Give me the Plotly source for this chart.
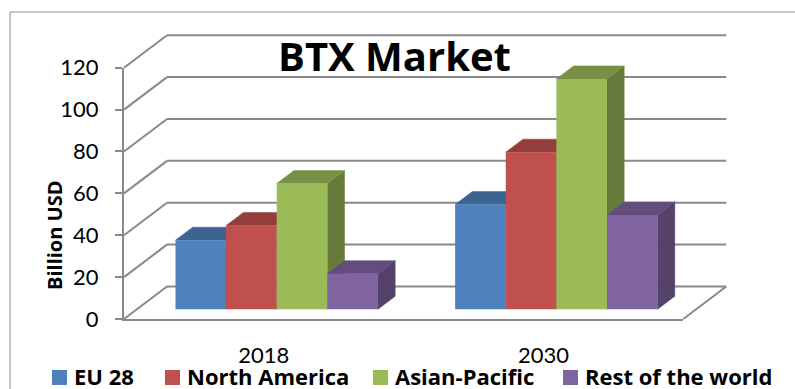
import plotly.graph_objects as go

# ---- data -------------------------------------------------------------
categories = ["2018", "2030"]
series_names = ["EU 28", "North America", "Asian-Pacific", "Rest of the world"]
eu28 = [33, 50]
north_america = [40, 75]
asian_pacific = [60, 110]
rest_of_world = [17, 45]
y_ticks = [0, 20, 40, 60, 80, 100, 120]

series_values = [eu28, north_america, asian_pacific, rest_of_world]
front_colors = ["#4F81BD", "#C0504D", "#9BBB59", "#8064A2"]
top_colors = ["#3D6392", "#943E3B", "#779045", "#634D7D"]
side_colors = ["#34557D", "#7F3533", "#667B3B", "#54426B"]

# ---- page / projection geometry -------------------------------------
W, H = 795, 389
X0_PX, Y0_PX = 124, 319          # front-left corner of the floor
PX_PER_CAT = 279.65              # width of one category slot
PX_PER_UNIT = 2.094              # pixels per billion USD
DEPTH_DX = 43 / PX_PER_CAT       # oblique depth offset (x, data units)
DEPTH_DY = 32.5 / PX_PER_UNIT    # oblique depth offset (y, data units)
BAR_FRONT = 0.30                 # depth position of bar front faces
BAR_DEPTH = 0.40                 # depth of each bar
GROUP_W = 0.724                  # cluster width inside a category slot
N_CAT = len(categories)
bar_w = GROUP_W / len(series_names)

GRID = "#898989"
NUM_FONT = "Lato, Carlito, Calibri, sans-serif"
BOLD_FONT = "Open Sans, Carlito, Calibri, sans-serif"

fig = go.Figure()
shapes = []

# back wall gridlines and left-wall diagonals
for v in y_ticks:
    shapes.append(dict(type="line", xref="x", yref="y", layer="below",
                       x0=0, y0=v, x1=DEPTH_DX, y1=v + DEPTH_DY,
                       line=dict(color=GRID, width=2)))
    shapes.append(dict(type="line", xref="x", yref="y", layer="below",
                       x0=DEPTH_DX, y0=v + DEPTH_DY,
                       x1=N_CAT + DEPTH_DX, y1=v + DEPTH_DY,
                       line=dict(color=GRID, width=2)))
# floor right edge
shapes.append(dict(type="line", xref="x", yref="y", layer="below",
                   x0=N_CAT, y0=0, x1=N_CAT + DEPTH_DX, y1=DEPTH_DY,
                   line=dict(color=GRID, width=2)))

base = BAR_FRONT * DEPTH_DY
ddx = BAR_DEPTH * DEPTH_DX
ddy = BAR_DEPTH * DEPTH_DY


def poly(pts):
    return "M " + " L ".join(f"{px:.5f},{py:.5f}" for px, py in pts) + " Z"


# side and top faces, drawn left to right so nearer faces overlap
for i in range(N_CAT):
    for j, vals in enumerate(series_values):
        left = i + 0.5 - GROUP_W / 2 + j * bar_w + BAR_FRONT * DEPTH_DX
        right = left + bar_w
        top = base + vals[i]
        side = [(right, base), (right, top), (right + ddx, top + ddy),
                (right + ddx, base + ddy)]
        lid = [(left, top), (right, top), (right + ddx, top + ddy),
               (left + ddx, top + ddy)]
        shapes.append(dict(type="path", xref="x", yref="y", layer="below",
                           path=poly(side), fillcolor=side_colors[j],
                           line=dict(color=side_colors[j], width=0.5)))
        shapes.append(dict(type="path", xref="x", yref="y", layer="below",
                           path=poly(lid), fillcolor=top_colors[j],
                           line=dict(color=top_colors[j], width=0.5)))

# front faces of the columns
for j, (name, vals) in enumerate(zip(series_names, series_values)):
    xs = [i + 0.5 - GROUP_W / 2 + (j + 0.5) * bar_w + BAR_FRONT * DEPTH_DX
          for i in range(N_CAT)]
    fig.add_trace(go.Bar(
        x=xs, y=vals, base=base, width=bar_w, name=name,
        marker=dict(color=front_colors[j], line=dict(width=0)),
        showlegend=False, hoverinfo="name+y",
    ))

# empty trace anchoring the front axes subplot
fig.add_trace(go.Scatter(x=[None], y=[None], xaxis="x2", yaxis="y2",
                         showlegend=False, hoverinfo="skip"))

# chart border
shapes.append(dict(type="rect", xref="paper", yref="paper",
                   x0=10 / W, x1=1.2, y0=-0.2, y1=(H - 12) / H,
                   line=dict(color="#8c8c8c", width=1), layer="below"))

# legend
legend_x = [52, 165, 373, 563]
for j, name in enumerate(series_names):
    shapes.append(dict(type="rect", xref="paper", yref="paper",
                       x0=legend_x[j] / W, x1=(legend_x[j] + 15) / W,
                       y0=(H - 385) / H, y1=(H - 370) / H,
                       fillcolor=front_colors[j], line=dict(width=0)))
    fig.add_annotation(text=f"<b>{name}</b>", xref="paper", yref="paper",
                       x=(legend_x[j] + 20) / W, y=(H - 375.5) / H,
                       xanchor="left", yanchor="middle", showarrow=False,
                       font=dict(family=BOLD_FONT, size=22, color="#000000"))

# title and axis title
fig.add_annotation(text="<b>BTX Market</b>", xref="paper", yref="paper",
                   x=394 / W, y=(H - 56) / H, xanchor="center",
                   yanchor="middle", showarrow=False,
                   font=dict(family=BOLD_FONT, size=40, color="#000000"))
fig.add_annotation(text="<b>Billion USD</b>", xref="paper", yref="paper",
                   x=54 / W, y=(H - 235) / H, textangle=-90,
                   xanchor="center", yanchor="middle", showarrow=False,
                   font=dict(family=BOLD_FONT, size=20, color="#000000"))

fig.update_layout(
    width=W, height=H,
    margin=dict(l=0, r=0, t=0, b=0, pad=0, autoexpand=False),
    paper_bgcolor="white", plot_bgcolor="rgba(0,0,0,0)",
    barmode="overlay",
    font=dict(family=NUM_FONT, color="#000000"),
    shapes=shapes,
    xaxis=dict(domain=[0, 1], range=[-X0_PX / PX_PER_CAT, (W - X0_PX) / PX_PER_CAT],
               visible=False, fixedrange=True),
    yaxis=dict(domain=[0, 1], range=[-(H - Y0_PX) / PX_PER_UNIT, Y0_PX / PX_PER_UNIT],
               visible=False, fixedrange=True),
    xaxis2=dict(domain=[X0_PX / W, (X0_PX + N_CAT * PX_PER_CAT) / W],
                range=[0, N_CAT], anchor="y2",
                showline=True, linecolor=GRID, linewidth=2,
                showgrid=False, zeroline=False,
                tickmode="array", tickvals=[i + 0.5 for i in range(N_CAT)],
                ticktext=categories, ticks="outside", ticklen=16,
                tickcolor="rgba(0,0,0,0)",
                tickfont=dict(family=NUM_FONT, size=22, color="#000000"),
                fixedrange=True),
    yaxis2=dict(domain=[(H - Y0_PX) / H, (H - Y0_PX + 120 * PX_PER_UNIT) / H],
                range=[0, 120], anchor="x2",
                showline=True, linecolor=GRID, linewidth=2,
                showgrid=False, zeroline=False,
                tickmode="array", tickvals=y_ticks,
                ticks="outside", ticklen=7, tickwidth=2, tickcolor=GRID,
                ticklabelstandoff=12,
                tickfont=dict(family=NUM_FONT, size=22, color="#000000"),
                fixedrange=True),
)

fig.write_html("out.html")
